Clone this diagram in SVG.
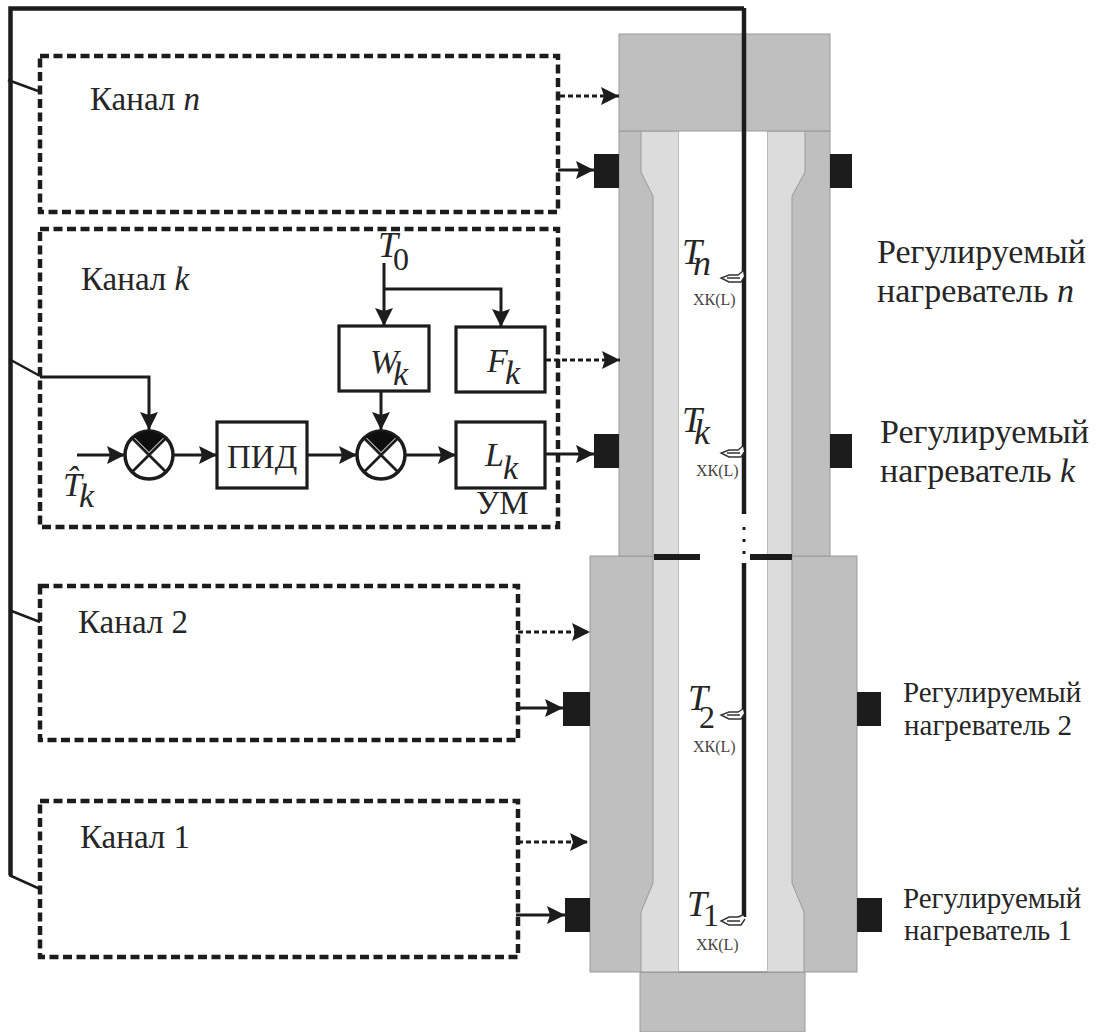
<svg xmlns="http://www.w3.org/2000/svg" width="1101" height="1032" viewBox="0 0 1101 1032">
<defs>
<style>
text{font-family:"Liberation Serif","Times New Roman",serif;fill:#262626}
.lab{font-size:33px}
.i{font-style:italic}
.sym{font-size:36px;font-style:italic}
.s{font-size:34px;font-style:italic}
.num{font-size:32px;font-style:normal}
.tc{font-size:16px;fill:#444}
.h1{font-size:34px}.h3{font-size:29px}
.dark{fill:#bfbfbf;stroke:#9a9a9a;stroke-width:1}
.light{fill:#dcdcdc;stroke:#9a9a9a;stroke-width:1}
.heat{fill:#1c1c1c}
.box{fill:#fff;stroke:#1c1c1c;stroke-width:3.2}
.circ{fill:#fff;stroke:#1c1c1c;stroke-width:3.5}
.dbox{fill:none;stroke:#1c1c1c;stroke-width:4.5;stroke-dasharray:9 4.5}
.w{fill:none;stroke:#1c1c1c;stroke-width:3}
.bus{fill:none;stroke:#1c1c1c;stroke-width:4.5}
.d{fill:none;stroke:#1c1c1c;stroke-width:3;stroke-dasharray:5 3}
.tcg{fill:#fff;stroke:#333;stroke-width:1.4}
</style>
<marker id="a" markerUnits="userSpaceOnUse" markerWidth="20" markerHeight="18" refX="18" refY="9" orient="auto"><path d="M0 0L18 9L0 18L3 9Z" fill="#1c1c1c"/></marker>
<g id="sum"><circle class="circ" r="24"/><path class="w" d="M-17 -17L17 17M17 -17L-17 17" style="stroke-width:2.8"/><path d="M-15 -18A23 23 0 0 1 15 -18L0 -3Z" fill="#0e0e0e"/></g>
</defs>
<rect width="1101" height="1032" fill="#fff"/>
<g id="furnace">
<rect class="dark" x="640" y="972" width="165" height="60"/>
<rect class="dark" x="590" y="556" width="267" height="416"/>
<rect class="dark" x="619" y="131" width="211" height="425"/>
<path class="light" d="M641 131H679V556H653V196L641 172Z"/>
<path class="light" d="M767 131H805V172L792 196V556H767Z"/>
<path class="light" d="M653 556H679V972H641V912L653 883Z"/>
<path class="light" d="M767 556H792V883L804 912V972H767Z"/>
<rect x="679" y="131" width="88" height="841" fill="#fff"/>
<path d="M679 972H767" stroke="#8a8a8a" stroke-width="1.5" fill="none"/>
<rect class="dark" x="619" y="34" width="211" height="97"/>
<rect class="heat" x="654" y="554" width="46" height="6"/>
<rect class="heat" x="750" y="554" width="42" height="6"/>
</g>
<g id="heaters">
<rect class="heat" x="594" y="154" width="25" height="34"/><rect class="heat" x="830" y="154" width="22" height="34"/>
<rect class="heat" x="594" y="434" width="25" height="34"/><rect class="heat" x="830" y="434" width="22" height="34"/>
<rect class="heat" x="563" y="692" width="27" height="34"/><rect class="heat" x="857" y="692" width="24" height="34"/>
<rect class="heat" x="565" y="898" width="25" height="34"/><rect class="heat" x="857" y="898" width="25" height="34"/>
</g>
<g id="thermocouple">
<path d="M744 8V514M744 563V917" fill="none" stroke="#1c1c1c" stroke-width="4.5"/>
<path d="M744 527v3M744 539v3M744 551v3" stroke="#1c1c1c" stroke-width="3" fill="none"/>
<g id="tc-n"><path class="tcg" d="M743 271L738 275H729L721 278L729 282H741L744 277M727 278H740"/></g>
<g id="tc-k"><path class="tcg" d="M743 446L738 450H729L721 453L729 457H741L744 452M727 453H740"/></g>
<g id="tc-2"><path class="tcg" d="M743 709L738 712H729L721 715L729 719H741L744 714M727 715H740"/></g>
<g id="tc-1"><path class="tcg" d="M743 915L738 917H729L721 921L729 925H741L745 919M727 921H740"/></g>
<text class="tc" x="693" y="305">ХК(L)</text>
<text class="tc" x="696" y="476">ХК(L)</text>
<text class="tc" x="693" y="752">ХК(L)</text>
<text class="tc" x="696" y="950">ХК(L)</text>
<text class="sym" x="682" y="264">T<tspan x="693" y="275">n</tspan></text>
<text class="sym" x="682" y="432">T<tspan x="694" y="444">k</tspan></text>
<text class="sym" x="688" y="710">T<tspan class="num" x="699" y="728">2</tspan></text>
<text class="sym" x="687" y="916">T<tspan class="num" x="703" y="926">1</tspan></text>
</g>
<g id="channel-n"><rect class="dbox" x="40" y="56" width="518" height="156"/><text class="lab" x="90" y="110">Канал <tspan class="i">n</tspan></text></g>
<g id="channel-k"><rect class="dbox" x="40" y="229" width="518" height="298"/><text class="lab" x="81" y="290">Канал <tspan class="i">k</tspan></text></g>
<g id="channel-2"><rect class="dbox" x="40" y="586" width="478" height="154"/><text class="lab" x="78" y="633">Канал 2</text></g>
<g id="channel-1"><rect class="dbox" x="40" y="801" width="478" height="156"/><text class="lab" x="80" y="848">Канал 1</text></g>
<g id="W"><rect class="box" x="339" y="326" width="90" height="65"/><text class="s" x="370" y="373">W<tspan x="393" y="385">k</tspan></text></g>
<g id="F"><rect class="box" x="456" y="327" width="89" height="65"/><text class="s" x="487" y="372">F<tspan x="505" y="384">k</tspan></text></g>
<g id="L"><rect class="box" x="456" y="422" width="89" height="66"/><text class="s" x="485" y="466">L<tspan x="503" y="479">k</tspan></text></g>
<g id="PID"><rect class="box" x="217" y="422" width="90" height="66"/><text x="227" y="468" font-size="33">ПИД</text></g>
<use id="sum1" href="#sum" x="149" y="455"/>
<use id="sum2" href="#sum" x="381" y="455"/>
<text x="476" y="514" font-size="33" id="um">УМ</text>
<text class="sym" x="378" y="257">T<tspan class="num" x="393" y="270">0</tspan></text>
<text class="s" x="63" y="496">T̂<tspan x="79" y="507">k</tspan></text>
<g id="heater-labels">
<text class="h1" x="877" y="263">Регулируемый</text><text class="h1" x="877" y="302">нагреватель <tspan class="i">n</tspan></text>
<text class="h1" x="880" y="443">Регулируемый</text><text class="h1" x="880" y="482">нагреватель <tspan class="i">k</tspan></text>
<text class="h3" x="903" y="702">Регулируемый</text><text class="h3" x="904" y="735">нагреватель 2</text>
<text class="h3" x="903" y="908">Регулируемый</text><text class="h3" x="904" y="940">нагреватель 1</text>
</g>
<g id="connectors">
<path class="bus" d="M744 8.500H10.500V875"/>
<path class="w" d="M8 80L38 91M9 359L40 376M9 610L40 622M9 875L40 889" style="stroke-width:2.5"/>
<path class="w" d="M40 377H149V430" marker-end="url(#a)"/>
<path class="w" d="M77 455H125" marker-end="url(#a)"/>
<path class="w" d="M173 455H217" marker-end="url(#a)"/>
<path class="w" d="M307 455H357" marker-end="url(#a)"/>
<path class="w" d="M405 455H456" marker-end="url(#a)"/>
<path class="w" d="M545 454H594" marker-end="url(#a)"/>
<path class="w" d="M384 263V326" marker-end="url(#a)"/>
<path class="w" d="M384 289H501V327" marker-end="url(#a)"/>
<path class="w" d="M381 391V430" marker-end="url(#a)"/>
<path class="d" d="M546 360H620" marker-end="url(#a)"/>
<path class="d" d="M560 96H619" marker-end="url(#a)"/>
<path class="d" d="M518 632H590" marker-end="url(#a)"/>
<path class="d" d="M518 842H588" marker-end="url(#a)"/>
<path class="w" d="M558 170H594" marker-end="url(#a)"/>
<path class="w" d="M518 708H563" marker-end="url(#a)"/>
<path class="w" d="M516 915H565" marker-end="url(#a)"/>
</g>
</svg>
